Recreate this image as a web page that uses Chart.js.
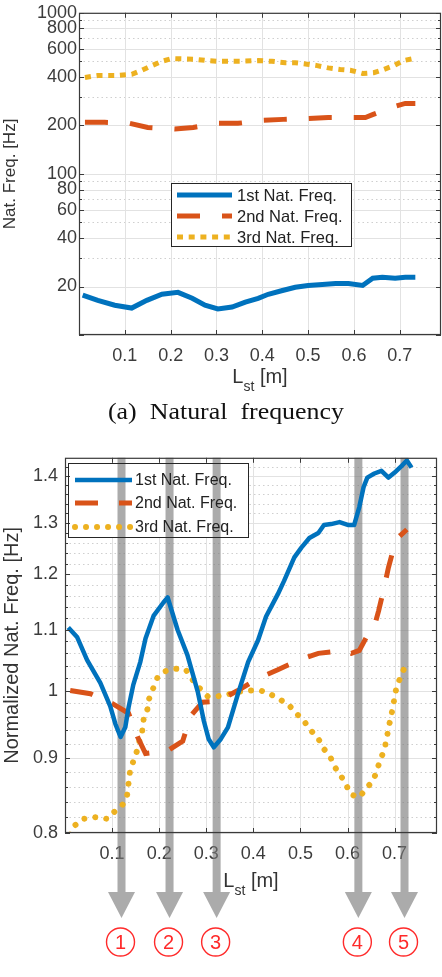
<!DOCTYPE html>
<html>
<head>
<meta charset="utf-8">
<script src="https://cdn.jsdelivr.net/npm/chart.js@4.4.1/dist/chart.umd.min.js"></script>
<style>
  html, body { margin: 0; padding: 0; background: #fff; }
  body { width: 442px; height: 977px; position: relative; overflow: hidden; }
  #topChart { position: absolute; left: 0; top: 0; }
  #bottomChart { position: absolute; left: 0; top: 440px; }
  #caption {
    position: absolute; top: 398px; left: 5px; width: 442px;
    text-align: center; white-space: pre;
    font-family: "Liberation Serif", "Times New Roman", serif; font-size: 24px; color: #111;
    transform: scaleX(1.08); transform-origin: center;
  }
</style>
</head>
<body>
<canvas id="topChart" width="442" height="400"></canvas>
<canvas id="bottomChart" width="442" height="537"></canvas>
<div id="caption">(a)  Natural  frequency</div>
<script>
// ---- shared axis values ----
const lstTicks = [0.1, 0.2, 0.3, 0.4, 0.5, 0.6, 0.7];

// ---- (a) natural frequency [Hz], log axis ----
const freqTicks = [10, 20, 40, 60, 80, 100, 200, 400, 600, 800, 1000];
const freqLabeled = [20, 40, 60, 80, 100, 200, 400, 600, 800, 1000];
const freqMinor = [30, 50, 70, 90, 300, 500, 700, 900];

const lstA1 = [0.008, 0.041, 0.078, 0.115, 0.148, 0.181, 0.216, 0.247, 0.275, 0.303, 0.334, 0.363, 0.391, 0.413, 0.444, 0.472, 0.5, 0.531, 0.56, 0.588, 0.619, 0.641, 0.662, 0.69, 0.712, 0.734];
const freqA1 = [17.7, 16.4, 15.3, 14.7, 16.4, 17.9, 18.4, 16.9, 15.3, 14.5, 14.9, 16.0, 16.9, 17.9, 18.9, 19.8, 20.3, 20.6, 20.9, 20.9, 20.3, 22.5, 22.8, 22.5, 22.8, 22.8];

const lstA2 = [0.013, 0.056, 0.111, 0.15, 0.209, 0.249, 0.303, 0.347, 0.402, 0.446, 0.5, 0.544, 0.599, 0.625, 0.642, 0.69, 0.712, 0.734];
const freqA2 = [209, 209, 206, 194, 190, 194, 206, 206, 215, 218, 221, 224, 224, 224, 234, 263, 274, 274];

const lstA3 = [0.013, 0.041, 0.085, 0.115, 0.137, 0.159, 0.181, 0.203, 0.253, 0.279, 0.303, 0.352, 0.391, 0.421, 0.45, 0.472, 0.498, 0.52, 0.544, 0.57, 0.592, 0.619, 0.643, 0.665, 0.687, 0.708, 0.73];
const freqA3 = [397, 408, 408, 415, 440, 470, 500, 520, 515, 505, 500, 500, 505, 500, 490, 490, 480, 470, 455, 445, 440, 420, 425, 445, 470, 505, 520];

// ---- normalized natural frequency, log axis ----
const normTicks = [0.8, 0.9, 1, 1.1, 1.2, 1.3, 1.4];
const normMinor = [0.82, 0.84, 0.86, 0.88, 0.92, 0.94, 0.96, 0.98, 1.02, 1.04, 1.06, 1.08,
                   1.12, 1.14, 1.16, 1.18, 1.22, 1.24, 1.26, 1.28, 1.32, 1.34, 1.36, 1.38, 1.42];

const lstB1 = [0.007, 0.026, 0.047, 0.075, 0.096, 0.107, 0.118, 0.128, 0.135, 0.145, 0.16, 0.171, 0.188, 0.209, 0.218, 0.239, 0.26, 0.282, 0.295, 0.305, 0.316, 0.331, 0.346, 0.367, 0.389, 0.41, 0.427, 0.452, 0.465, 0.487, 0.502, 0.519, 0.538, 0.55, 0.565, 0.583, 0.602, 0.614, 0.625, 0.634, 0.642, 0.657, 0.672, 0.687, 0.7, 0.715, 0.726, 0.736];
const normB1 = [1.104, 1.087, 1.049, 1.012, 0.976, 0.949, 0.93, 0.944, 0.974, 1.009, 1.046, 1.085, 1.124, 1.148, 1.157, 1.10, 1.057, 0.998, 0.953, 0.927, 0.915, 0.927, 0.944, 0.994, 1.046, 1.082, 1.123, 1.163, 1.187, 1.232, 1.251, 1.27, 1.28, 1.296, 1.298, 1.302, 1.296, 1.296, 1.333, 1.375, 1.396, 1.405, 1.411, 1.396, 1.407, 1.422, 1.434, 1.418];

const lstB2 = [0.011, 0.054, 0.1, 0.135, 0.154, 0.171, 0.218, 0.25, 0.267, 0.292, 0.324, 0.367, 0.412, 0.452, 0.497, 0.538, 0.59, 0.608, 0.625, 0.64, 0.655, 0.666, 0.678, 0.687, 0.7, 0.71, 0.726];
const normB2 = [1.0, 0.995, 0.98, 0.965, 0.93, 0.906, 0.91, 0.924, 0.961, 0.982, 0.983, 1.0, 1.02, 1.033, 1.049, 1.06, 1.065, 1.06, 1.065, 1.087, 1.10, 1.133, 1.176, 1.213, 1.257, 1.273, 1.287];

const lstB3 = [0.011, 0.022, 0.039, 0.064, 0.09, 0.103, 0.122, 0.132, 0.135, 0.138, 0.145, 0.153, 0.158, 0.164, 0.167, 0.175, 0.178, 0.188, 0.196, 0.21, 0.231, 0.257, 0.271, 0.284, 0.303, 0.324, 0.346, 0.367, 0.395, 0.416, 0.437, 0.459, 0.476, 0.491, 0.508, 0.521, 0.537, 0.548, 0.563, 0.572, 0.585, 0.597, 0.606, 0.625, 0.64, 0.655, 0.663, 0.67, 0.678, 0.683, 0.687, 0.692, 0.697, 0.7, 0.705, 0.715, 0.723, 0.732];
const normB3 = [0.798, 0.81, 0.818, 0.82, 0.818, 0.826, 0.836, 0.849, 0.865, 0.881, 0.895, 0.91, 0.924, 0.939, 0.956, 0.971, 0.986, 1.005, 1.02, 1.03, 1.035, 1.033, 1.017, 1.005, 0.991, 0.991, 0.994, 0.998, 1.0, 1.0, 0.994, 0.985, 0.977, 0.965, 0.953, 0.94, 0.929, 0.914, 0.902, 0.888, 0.876, 0.863, 0.85, 0.846, 0.858, 0.869, 0.884, 0.898, 0.911, 0.927, 0.943, 0.959, 0.976, 0.991, 1.008, 1.025, 1.041, 1.038];

// marked lengths (grey arrows) and their labels
const markLst = [0.12, 0.222, 0.322, 0.623, 0.721];
const markLabels = ['1', '2', '3', '4', '5'];

const seriesNames = ['1st Nat. Freq.', '2nd Nat. Freq.', '3rd Nat. Freq.'];
const BLUE = '#0072BD', ORANGE = '#D95319', YELLOW = '#EDB120';
const SANS = '"Liberation Sans", Arial, sans-serif';

Chart.defaults.font.family = SANS;
Chart.defaults.color = '#3c3c3c';

function pts(xs, ys) {
  return xs.map((x, i) => ({ x: x, y: ys[i] }));
}

function line(ctx, x1, y1, x2, y2) {
  ctx.beginPath();
  ctx.moveTo(x1, y1);
  ctx.lineTo(x2, y2);
  ctx.stroke();
}

// draws "L_st [m]" with a real subscript
function drawLstTitle(ctx, cx, base) {
  ctx.save();
  ctx.fillStyle = '#333';
  ctx.textBaseline = 'alphabetic';
  ctx.textAlign = 'left';
  const big = '20px ' + SANS, small = '14px ' + SANS;
  ctx.font = big;
  const wL = ctx.measureText('L').width;
  const wM = ctx.measureText(' [m]').width;
  ctx.font = small;
  const wS = ctx.measureText('st').width;
  let x = cx - (wL + wS + wM) / 2;
  ctx.font = big;
  ctx.fillText('L', x, base);
  x += wL;
  ctx.font = small;
  ctx.fillText('st', x, base + 8);
  x += wS;
  ctx.font = big;
  ctx.fillText(' [m]', x, base);
  ctx.restore();
}

// MATLAB-like box, grid, legend and extras
const frame = {
  id: 'frame',
  beforeDatasetsDraw(chart, args, o) {
    const { ctx, chartArea: a, scales: { x, y } } = chart;
    ctx.save();
    ctx.lineWidth = 1;
    // minor (dotted) grid
    ctx.strokeStyle = '#cfcfcf';
    ctx.setLineDash([1.5, 3]);
    o.yMinor.forEach(v => {
      const py = Math.round(y.getPixelForValue(v)) + 0.5;
      line(ctx, a.left, py, a.right, py);
    });
    ctx.setLineDash([]);
    // major grid
    ctx.strokeStyle = '#e2e2e2';
    y.ticks.forEach(t => {
      const py = Math.round(y.getPixelForValue(t.value)) + 0.5;
      line(ctx, a.left, py, a.right, py);
    });
    x.ticks.forEach(t => {
      const px = Math.round(x.getPixelForValue(t.value)) + 0.5;
      line(ctx, px, a.top, px, a.bottom);
    });
    // legend background
    const L = o.legend;
    ctx.fillStyle = '#fff';
    ctx.fillRect(L.x, L.y, L.w, L.h);
    // grey arrows
    if (o.marks) {
      ctx.fillStyle = 'rgba(120,120,120,0.62)';
      o.marks.forEach(v => {
        const px = x.getPixelForValue(v);
        ctx.beginPath();
        ctx.moveTo(px - 4, a.top);
        ctx.lineTo(px + 4, a.top);
        ctx.lineTo(px + 4, o.shaftEnd);
        ctx.lineTo(px + 13.5, o.shaftEnd);
        ctx.lineTo(px, o.arrowTip);
        ctx.lineTo(px - 13.5, o.shaftEnd);
        ctx.lineTo(px - 4, o.shaftEnd);
        ctx.closePath();
        ctx.fill();
      });
    }
    ctx.restore();
  },
  afterDatasetsDraw(chart, args, o) {
    const { ctx, chartArea: a, scales: { x, y } } = chart;
    ctx.save();
    // box and inward ticks
    ctx.strokeStyle = '#3a3a3a';
    ctx.lineWidth = 1.2;
    ctx.strokeRect(a.left + 0.5, a.top + 0.5, a.right - a.left - 1, a.bottom - a.top - 1);
    ctx.lineWidth = 1;
    y.ticks.forEach(t => {
      const py = Math.round(y.getPixelForValue(t.value)) + 0.5;
      line(ctx, a.left, py, a.left + 5, py);
      line(ctx, a.right - 5, py, a.right, py);
    });
    o.yMinor.forEach(v => {
      const py = Math.round(y.getPixelForValue(v)) + 0.5;
      line(ctx, a.left, py, a.left + 3, py);
      line(ctx, a.right - 3, py, a.right, py);
    });
    x.ticks.forEach(t => {
      const px = Math.round(x.getPixelForValue(t.value)) + 0.5;
      line(ctx, px, a.bottom, px, a.bottom - 5);
      line(ctx, px, a.top, px, a.top + 5);
    });
    // legend
    const L = o.legend;
    ctx.strokeStyle = '#262626';
    ctx.lineWidth = 1;
    ctx.strokeRect(L.x + 0.5, L.y + 0.5, L.w, L.h);
    chart.data.datasets.forEach((ds, i) => {
      const ry = L.y + L.rows[i];
      ctx.save();
      ctx.strokeStyle = ds.borderColor;
      ctx.lineWidth = ds.borderWidth;
      ctx.lineCap = ds.borderCapStyle || 'butt';
      ctx.setLineDash(ds.borderDash || []);
      line(ctx, L.x + L.sampleX, ry, L.x + L.sampleX + L.sampleW, ry);
      ctx.restore();
      ctx.fillStyle = '#222';
      ctx.font = L.font + 'px ' + SANS;
      ctx.textBaseline = 'middle';
      ctx.textAlign = 'left';
      ctx.fillText(ds.label, L.x + L.textX, ry + 1);
    });
    // x title
    drawLstTitle(ctx, (a.left + a.right) / 2, o.titleBase);
    // circled numbers
    if (o.marks) {
      o.marks.forEach((v, i) => {
        const px = x.getPixelForValue(v) - 1;
        ctx.strokeStyle = '#ff2a2a';
        ctx.lineWidth = 1.4;
        ctx.beginPath();
        ctx.arc(px, o.circleY, 14, 0, Math.PI * 2);
        ctx.stroke();
        ctx.fillStyle = '#ff2a2a';
        ctx.font = '20px ' + SANS;
        ctx.textAlign = 'center';
        ctx.textBaseline = 'middle';
        ctx.fillText(o.markLabels[i], px, o.circleY + 1);
      });
    }
    ctx.restore();
  }
};

function buildOptions(cfg) {
  return {
    animation: false,
    responsive: false,
    events: [],
    layout: { padding: cfg.padding },
    plugins: {
      legend: { display: false },
      tooltip: { enabled: false },
      frame: cfg.frame
    },
    elements: { point: { radius: 0 }, line: { tension: 0 } },
    scales: {
      x: {
        type: 'linear',
        min: 0,
        max: 0.79,
        grid: { display: false, drawTicks: false },
        border: { display: false },
        afterBuildTicks: s => { s.ticks = lstTicks.map(v => ({ value: v })); },
        afterFit: s => { s.height = cfg.xHeight; },
        ticks: { padding: 10, autoSkip: false, maxRotation: 0, font: { size: 18 }, color: '#3c3c3c',
                 callback: v => Number(v).toFixed(1) }
      },
      y: {
        type: 'logarithmic',
        min: cfg.yMin,
        max: cfg.yMax,
        grid: { display: false, drawTicks: false },
        border: { display: false },
        afterBuildTicks: s => { s.ticks = cfg.yTicks.map(v => ({ value: v })); },
        afterFit: s => { s.width = cfg.yWidth; },
        ticks: { padding: cfg.yPad, autoSkip: false, font: { size: 18 }, color: '#3c3c3c',
                 callback: v => (cfg.yLabeled.includes(v) ? String(v) : '') },
        title: { display: true, text: cfg.yTitle, padding: 0, color: '#333',
                 font: { size: cfg.yTitleSize } }
      }
    }
  };
}

// (a) Natural frequency
new Chart(document.getElementById('topChart'), {
  type: 'line',
  data: {
    datasets: [
      { label: seriesNames[0], data: pts(lstA1, freqA1), borderColor: BLUE, borderWidth: 5 },
      { label: seriesNames[1], data: pts(lstA2, freqA2), borderColor: ORANGE, borderWidth: 5,
        borderDash: [23, 22] },
      { label: seriesNames[2], data: pts(lstA3, freqA3), borderColor: YELLOW, borderWidth: 5,
        borderDash: [6, 5.7] }
    ]
  },
  options: buildOptions({
    padding: { top: 11, right: 1, left: 0, bottom: 0 },
    xHeight: 65, yWidth: 79, yPad: 2,
    yMin: 10, yMax: 1000, yTicks: freqTicks, yLabeled: freqLabeled,
    yTitle: 'Nat. Freq. [Hz]', yTitleSize: 17,
    frame: {
      yMinor: freqMinor,
      titleBase: 383,
      legend: { x: 171, y: 183, w: 180, h: 63, rows: [12, 33, 54], sampleX: 6, sampleW: 55, textX: 66, font: 16.5 }
    }
  }),
  plugins: [frame]
});

// Normalized natural frequency
new Chart(document.getElementById('bottomChart'), {
  type: 'line',
  data: {
    datasets: [
      { label: seriesNames[0], data: pts(lstB1, normB1), borderColor: BLUE, borderWidth: 4.5,
        borderJoinStyle: 'round' },
      { label: seriesNames[1], data: pts(lstB2, normB2), borderColor: ORANGE, borderWidth: 5,
        borderDash: [23, 21] },
      { label: seriesNames[2], data: pts(lstB3, normB3), borderColor: YELLOW, borderWidth: 6,
        borderDash: [0.01, 11], borderCapStyle: 'round' }
    ]
  },
  options: buildOptions({
    padding: { top: 13, right: 5, left: 0, bottom: 0 },
    xHeight: 144, yWidth: 65, yPad: 7,
    yMin: 0.8, yMax: 1.44, yTicks: normTicks, yLabeled: normTicks,
    yTitle: 'Normalized Nat. Freq. [Hz]', yTitleSize: 20,
    frame: {
      yMinor: normMinor,
      titleBase: 447,
      marks: markLst, markLabels: markLabels,
      shaftEnd: 452, arrowTip: 478, circleY: 502,
      legend: { x: 68, y: 23, w: 180, h: 74, rows: [17, 40, 64], sampleX: 7, sampleW: 57, textX: 67, font: 16 }
    }
  }),
  plugins: [frame]
});
</script>
</body>
</html>
